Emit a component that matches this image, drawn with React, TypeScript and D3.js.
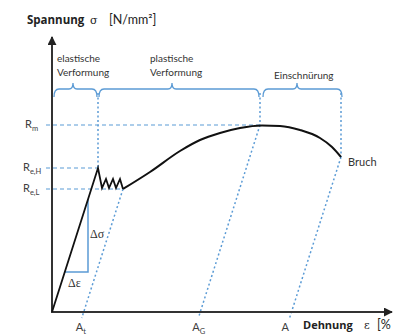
import React from "react";
import * as d3 from "d3";

// Schematic stress-strain diagram (values in diagram units)
const elasticAndYield: [number, number][] = [
  [0, 0], [46, 144], [50, 124], [54, 133], [57, 124], [61, 133], [64, 124], [68, 133], [71, 123],
];
const hardeningCurve: [number, number][] = [
  [71, 123], [98, 140], [128, 161], [148, 172], [168, 179], [188, 184], [210, 186.5],
  [228, 186], [248, 182], [268, 174], [280, 165], [289, 155],
];
const yLevelNames = ["Rm", "ReH", "ReL"];
const yLevelValues = [187, 144, 123];
const yLevelMain = ["R", "R", "R"];
const yLevelSub = ["m", "e,H", "e,L"];
const rmX = 208;
const reLX = 71;
const breakPoint: [number, number] = [289, 155];
const elasticPeakX = 46;
const xLabelMain = ["A", "A", "A"];
const xLabelSub = ["t", "G", ""];
const regionNames = [["elastische", "Verformung"], ["plastische", "Verformung"], ["Einschnürung"]];

const W = 393, H = 334;
const BLUE = "#5b9bd5";
const GRAY = "#404040";

export default function App() {
  const x = d3.scaleLinear().domain([0, 341]).range([52, 393]);
  const y = d3.scaleLinear().domain([0, 274]).range([312, 38]);
  const E = elasticAndYield[1][1] / elasticAndYield[1][0];

  const lin = d3.line<[number, number]>().x(d => x(d[0])).y(d => y(d[1]));
  const smooth = d3.line<[number, number]>().x(d => x(d[0])).y(d => y(d[1])).curve(d3.curveMonotoneX);

  const yOf = (name: string) => yLevelValues[yLevelNames.indexOf(name)];
  const startPts: [number, number][] = [
    [reLX, yOf("ReL")],
    [rmX, yOf("Rm")],
    breakPoint,
  ];
  const offsetLines = startPts.map(([px, py]) => {
    const yb = -6;
    return { x1: x(px), y1: y(py), x2: x(px - (py - yb) / E), y2: y(yb), xi: x(px - py / E) };
  });

  const levelEnds = [rmX, elasticPeakX, reLX];

  const braceY = 89;
  const brace = (x1: number, x2: number, xm: number) =>
    `M${x1},${braceY + 8} Q${x1},${braceY} ${x1 + 5},${braceY} L${xm - 4},${braceY} Q${xm},${braceY} ${xm},${braceY - 6} Q${xm},${braceY} ${xm + 4},${braceY} L${x2 - 5},${braceY} Q${x2},${braceY} ${x2},${braceY + 8}`;
  const braces = [
    [x(0) + 2, x(elasticPeakX) - 1, 73],
    [x(elasticPeakX) + 1, x(rmX) - 1, 172],
    [x(rmX) + 3, x(breakPoint[0]) + 1, 297],
  ];
  const regionX = [57, 150, 274];

  // slope triangle
  const triX = 36, triYb = 40;
  const triTop = triX * E;
  const triLeft = triYb / E;

  const font = "Lato, 'Open Sans', sans-serif";
  const boldFont = "'Open Sans', sans-serif";

  return (
    <svg width={W} height={H} style={{ position: "absolute", left: 0, top: 0, background: "#fff" }}>
      <defs>
        <marker id="arr" viewBox="0 0 10 10" refX="9" refY="5" markerWidth="4.5" markerHeight="4.5" orient="auto">
          <path d="M0,0 L10,5 L0,10 z" fill="#222" />
        </marker>
      </defs>

      {/* title */}
      <text x={27} y={24} fontFamily={boldFont} fontSize={11.5} fill="#222" fontWeight="bold">Spannung</text>
      <text x={90} y={24} fontFamily="'DejaVu Serif', serif" fontSize={11} fill="#222">σ</text>
      <text x={109} y={24} fontFamily={font} fontSize={12.5} fill="#222">[N/mm²]</text>

      {/* braces */}
      {braces.map((b, i) => (
        <path key={i} d={brace(b[0], b[1], b[2])} fill="none" stroke={BLUE} strokeWidth={1.3} />
      ))}
      {regionNames.map((lines, i) =>
        lines.map((t, j) => (
          <text key={`${i}-${j}`} x={regionX[i]} y={(i === 2 ? 79 : 62) + j * 14} fontFamily={font} fontSize={10} fill="#333">
            {t}
          </text>
        ))
      )}

      {/* horizontal dashed levels */}
      {yLevelValues.map((v, i) => (
        <line key={i} x1={46} x2={x(levelEnds[i])} y1={y(v)} y2={y(v)} stroke={BLUE} strokeWidth={1.2} strokeDasharray="4,3" />
      ))}
      {/* vertical dotted lines */}
      {[elasticPeakX, rmX, breakPoint[0]].map((v, i) => (
        <line key={i} x1={x(v)} x2={x(v)} y1={braceY + 4} y2={y(i === 0 ? yOf("ReH") : i === 1 ? yOf("Rm") : breakPoint[1])}
          stroke={BLUE} strokeWidth={1.5} strokeDasharray="2,2.5" />
      ))}
      {/* parallel offset lines */}
      {offsetLines.map((l, i) => (
        <line key={i} x1={l.x1} y1={l.y1} x2={l.x2} y2={l.y2} stroke={BLUE} strokeWidth={1.5} strokeDasharray="2,2.5" />
      ))}

      {/* slope triangle */}
      <path d={`M${x(triLeft)},${y(triYb)} L${x(triX)},${y(triYb)} L${x(triX)},${y(triTop)}`} fill="none" stroke={BLUE} strokeWidth={1.5} />
      <text x={90} y={238} fontFamily="'Liberation Serif', serif" fontSize={12} fill="#333">Δσ</text>
      <text x={68} y={287} fontFamily="'Liberation Serif', serif" fontSize={12} fill="#333">Δε</text>

      {/* axes */}
      <line x1={x(0)} y1={y(0) + 1} x2={x(0)} y2={37} stroke="#333" strokeWidth={2} markerEnd="url(#arr)" />
      <line x1={x(0) - 1} y1={y(0)} x2={392} y2={y(0)} stroke="#333" strokeWidth={2} markerEnd="url(#arr)" />

      {/* curve */}
      <path d={lin(elasticAndYield) || ""} fill="none" stroke="#111" strokeWidth={1.8} strokeLinejoin="miter" />
      <path d={smooth(hardeningCurve) || ""} fill="none" stroke="#111" strokeWidth={2} />

      {/* y level labels */}
      {yLevelValues.map((v, i) => (
        <text key={i} x={i === 0 ? 25 : 23} y={y(v) + 3} fontFamily={font} fontSize={11} fill={GRAY}>
          {yLevelMain[i]}
          <tspan fontSize={7.5} dy={2.5}>{yLevelSub[i]}</tspan>
        </text>
      ))}

      {/* x labels */}
      {offsetLines.map((l, i) => (
        <text key={i} x={l.xi - (i === 2 ? 10 : 8)} y={331} fontFamily={font} fontSize={11} fill={GRAY}>
          {xLabelMain[i]}
          {xLabelSub[i] ? <tspan fontSize={7.5} dy={2.5}>{xLabelSub[i]}</tspan> : null}
        </text>
      ))}

      <text x={348} y={166} fontFamily={font} fontSize={11} fill="#333">Bruch</text>

      <text x={303} y={329} fontFamily={boldFont} fontSize={11} fill="#222" fontWeight="bold">Dehnung</text>
      <text x={364} y={329} fontFamily="'DejaVu Serif', serif" fontSize={11} fill="#222">ε</text>
      <text x={377} y={329} fontFamily={font} fontSize={12.5} fill="#222">[%</text>
    </svg>
  );
}
